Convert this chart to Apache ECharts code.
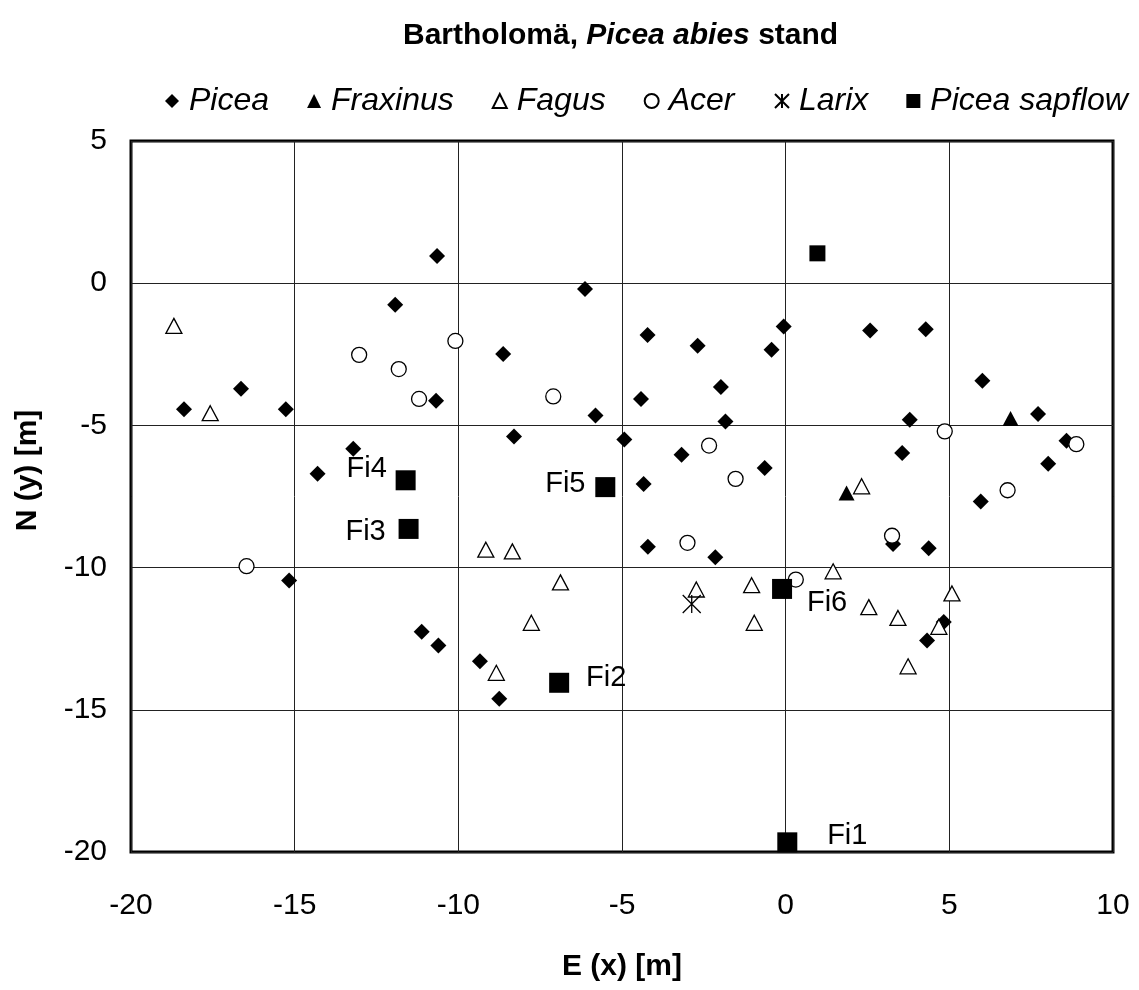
<!DOCTYPE html>
<html><head><meta charset="utf-8">
<script src="https://cdn.jsdelivr.net/npm/echarts@6/dist/echarts.min.js"></script>
<style>html,body{margin:0;padding:0;background:#fff}#c{width:1139px;height:990px}</style>
</head><body><div id="c"></div>
<script>
// ---- data ----
const seriesNames = ['Picea', 'Fraxinus', 'Fagus', 'Acer', 'Larix', 'Picea sapflow'];
const xTicks = [-20, -15, -10, -5, 0, 5, 10];
const yTicks = [-20, -15, -10, -5, 0, 5];

const piceaX = [-10.65, -11.93, -6.13, -0.06, -4.22, -2.69, -8.63, -0.43, 2.58, 4.28,
  -16.64, -18.38, -15.27, -10.68, -4.42, -1.98, -5.81, -1.84, 3.79, 6.01,
  7.71, -8.30, -4.93, -13.21, -14.30, -3.18, -0.64, -4.34, 3.56, 5.96,
  8.02, 8.58, -4.21, -2.15, 3.28, 4.37, -15.17, -11.12, -10.61, -9.34,
  -8.75, 4.83, 4.32];
const piceaY = [0.96, -0.76, -0.20, -1.52, -1.82, -2.20, -2.49, -2.34, -1.66, -1.62,
  -3.71, -4.43, -4.43, -4.13, -4.07, -3.65, -4.65, -4.86, -4.80, -3.43,
  -4.60, -5.39, -5.50, -5.82, -6.70, -6.03, -6.50, -7.06, -5.97, -7.68,
  -6.35, -5.54, -9.27, -9.64, -9.17, -9.32, -10.45, -12.26, -12.74, -13.29,
  -14.61, -11.91, -12.56];

const fraxinusX = [6.87, 1.86];
const fraxinusY = [-4.76, -7.38];

const fagusX = [-18.69, -17.58, -9.16, -8.35, -6.88, -2.73, -1.04, -0.96, -7.77, -8.84,
  2.32, 1.45, 5.08, 2.54, 3.43, 4.68, 3.74];
const fagusY = [-1.50, -4.57, -9.37, -9.43, -10.52, -10.77, -10.62, -11.94, -11.94, -13.70,
  -7.14, -10.13, -10.91, -11.39, -11.77, -12.08, -13.47];

const acerX = [-13.03, -11.82, -11.20, -10.09, -7.10, -16.47, -2.34, -1.53, -3.00, 4.86,
  3.25, 6.78, 8.88, 0.31];
const acerY = [-2.52, -3.02, -4.07, -2.03, -3.98, -9.95, -5.71, -6.88, -9.13, -5.21,
  -8.88, -7.28, -5.66, -10.42];

const larixX = [-2.87];
const larixY = [-11.28];

const sapflowNames = ['', 'Fi1', 'Fi2', 'Fi3', 'Fi4', 'Fi5', 'Fi6'];
const sapflowX = [0.97, 0.05, -6.92, -11.52, -11.61, -5.51, -0.11];
const sapflowY = [1.05, -19.66, -14.05, -8.64, -6.93, -7.17, -10.75];

// ---- style / label placement (not data) ----
const FONT = "'Liberation Sans', Arial, sans-serif";
const labelOffsets = {
  Fi1: [60, -6], Fi2: [47, -5], Fi3: [-43, 3], Fi4: [-39, -11], Fi5: [-40, -3], Fi6: [45, 14]
};

function pts(xs, ys) { return xs.map((x, i) => [x, ys[i]]); }

const solid = { color: '#000', opacity: 1 };
const hollow = { color: '#fff', borderColor: '#000', borderWidth: 1.3, opacity: 1 };
const asterisk = 'path://M0,0L20,20M20,0L0,20M10,0L10,20';

const chart = echarts.init(document.getElementById('c'), null, { renderer: 'canvas' });
chart.setOption({
  animation: false,
  backgroundColor: '#fff',
  textStyle: { fontFamily: FONT, color: '#000' },
  title: {
    text: '{b|Bartholomä, }{bi|Picea abies}{b| stand}',
    left: 398, top: 16,
    textStyle: {
      rich: {
        b: { fontSize: 30, fontWeight: 'bold', fontFamily: FONT, color: '#000' },
        bi: { fontSize: 30, fontWeight: 'bold', fontStyle: 'italic', fontFamily: FONT, color: '#000' }
      }
    }
  },
  legend: {
    data: seriesNames,
    left: 160, top: 80,
    itemWidth: 14, itemHeight: 14, itemGap: 38,
    textStyle: { fontSize: 32, fontStyle: 'italic', fontFamily: FONT, color: '#000', padding: [0, 0, 0, 5] }
  },
  grid: {
    left: 131, right: 26, top: 141, bottom: 138,
    show: true, borderColor: '#000', borderWidth: 3, backgroundColor: 'transparent'
  },
  xAxis: {
    type: 'value', min: xTicks[0], max: xTicks[xTicks.length - 1], interval: 5,
    axisLine: { show: false }, axisTick: { show: false },
    splitLine: { show: true, lineStyle: { color: '#222', width: 1 } },
    axisLabel: { fontSize: 30, color: '#000', margin: 39, fontFamily: FONT },
    name: 'E (x) [m]', nameLocation: 'middle', nameGap: 100,
    nameTextStyle: { fontSize: 30, fontWeight: 'bold', color: '#000', fontFamily: FONT }
  },
  yAxis: {
    type: 'value', min: yTicks[0], max: yTicks[yTicks.length - 1], interval: 5,
    axisLine: { show: false }, axisTick: { show: false },
    splitLine: { show: true, lineStyle: { color: '#222', width: 1 } },
    axisLabel: { fontSize: 30, color: '#000', margin: 24, fontFamily: FONT },
    name: 'N (y) [m]', nameLocation: 'middle', nameGap: 88,
    nameTextStyle: { fontSize: 30, fontWeight: 'bold', color: '#000', fontFamily: FONT, padding: [0, 0, 0, 52] }
  },
  series: [
    { name: 'Picea', type: 'scatter', symbol: 'diamond', symbolSize: 16,
      itemStyle: solid, data: pts(piceaX, piceaY) },
    { name: 'Fraxinus', type: 'scatter', symbol: 'triangle', symbolSize: [16, 15],
      itemStyle: solid, data: pts(fraxinusX, fraxinusY) },
    { name: 'Fagus', type: 'scatter', symbol: 'triangle', symbolSize: [16, 15],
      itemStyle: hollow, data: pts(fagusX, fagusY) },
    { name: 'Acer', type: 'scatter', symbol: 'circle', symbolSize: 15,
      itemStyle: hollow, data: pts(acerX, acerY) },
    { name: 'Larix', type: 'scatter', symbol: asterisk, symbolSize: 18,
      itemStyle: { color: 'none', borderColor: '#000', borderWidth: 1.3, opacity: 1 }, data: pts(larixX, larixY) },
    { name: 'Picea sapflow', type: 'scatter', symbol: 'rect',
      itemStyle: solid,
      data: sapflowX.map((x, i) => {
        const nm = sapflowNames[i];
        return {
          value: [x, sapflowY[i]], name: nm,
          symbolSize: nm ? 20 : 16,
          label: nm ? { show: true, position: 'inside', offset: labelOffsets[nm],
            formatter: '{b}', color: '#000', fontSize: 29, fontFamily: FONT } : { show: false }
        };
      }) }
  ]
});
</script>
</body></html>
